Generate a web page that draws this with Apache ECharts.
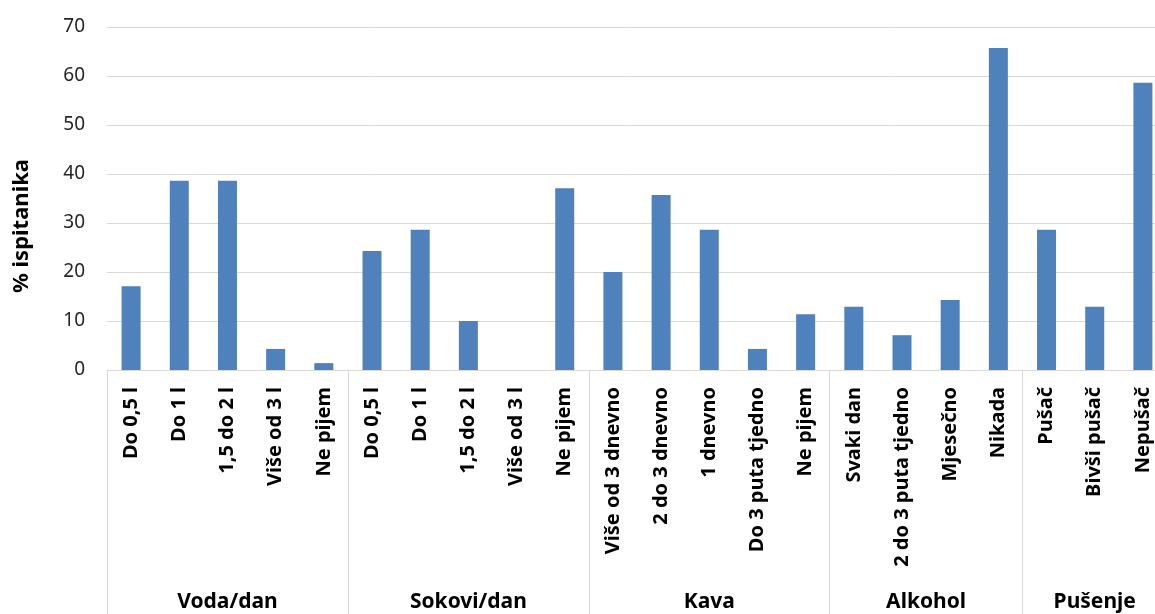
<!DOCTYPE html>
<html>
<head>
<meta charset="utf-8">
<script src="https://cdn.jsdelivr.net/npm/echarts@6/dist/echarts.min.js"></script>
<style>
html,body{margin:0;padding:0;background:#fff;}
#chart{width:1155px;height:614px;}
</style>
</head>
<body>
<div id="chart"></div>
<script>
// ---- data ----
const categories = [
  'Do 0,5 l', 'Do 1 l', '1,5 do 2 l', 'Više od 3 l', 'Ne pijem',
  'Do 0,5 l', 'Do 1 l', '1,5 do 2 l', 'Više od 3 l', 'Ne pijem',
  'Više od 3 dnevno', '2 do 3 dnevno', '1 dnevno', 'Do 3 puta tjedno', 'Ne pijem',
  'Svaki dan', '2 do 3 puta tjedno', 'Mjesečno', 'Nikada',
  'Pušač', 'Bivši pušač', 'Nepušač'
];
const values = [
  17.1, 38.6, 38.6, 4.3, 1.4,
  24.3, 28.6, 10.0, 0, 37.1,
  20.0, 35.7, 28.6, 4.3, 11.4,
  12.9, 7.1, 14.3, 65.7,
  28.6, 12.9, 58.6
];
const groupNames = ['Voda/dan', 'Sokovi/dan', 'Kava', 'Alkohol', 'Pušenje'];
const groupSizes = [5, 5, 5, 4, 3];
const yTicks = [0, 10, 20, 30, 40, 50, 60, 70];
const yAxisTitle = '% ispitanika';

// ---- derived helpers ----
const boundaries = [];
let acc = 0;
groupSizes.forEach(s => { boundaries.push(acc); acc += s; });
boundaries.push(acc);
const nHalf = categories.length * 2 + 1;
const groupLabelSlots = new Array(nHalf).fill('');
acc = 0;
groupSizes.forEach((s, i) => {
  groupLabelSlots[acc * 2 + s] = groupNames[i];
  acc += s;
});

const chart = echarts.init(document.getElementById('chart'), null, {renderer: 'canvas'});
const font = 'Noto Sans';
const option = {
  animation: false,
  backgroundColor: '#ffffff',
  grid: {left: 107, right: -12, top: 27, bottom: 244, containLabel: false, outerBoundsMode: 'none'},
  xAxis: [
    {
      type: 'category',
      data: categories,
      boundaryGap: true,
      axisLine: {show: true, lineStyle: {color: '#d9d9d9', width: 1}},
      axisTick: {
        show: true,
        length: 244,
        interval: (i) => boundaries.indexOf(i) >= 0,
        lineStyle: {color: '#d9d9d9', width: 1}
      },
      axisLabel: {
        interval: 0,
        rotate: 90,
        margin: 17,
        color: '#000000',
        fontFamily: font,
        fontWeight: 'bold',
        fontSize: 20
      },
      splitLine: {show: false}
    },
    {
      type: 'category',
      data: groupLabelSlots,
      boundaryGap: false,
      position: 'bottom',
      axisLine: {show: false},
      axisTick: {show: false},
      axisLabel: {
        interval: 0,
        margin: 222,
        color: '#000000',
        fontFamily: font,
        fontWeight: 'bold',
        fontSize: 21
      },
      splitLine: {show: false}
    }
  ],
  yAxis: {
    type: 'value',
    min: yTicks[0],
    max: yTicks[yTicks.length - 1],
    interval: yTicks[1] - yTicks[0],
    name: yAxisTitle,
    nameLocation: 'middle',
    nameGap: 74,
    nameTextStyle: {
      fontFamily: font,
      fontWeight: 'bold',
      fontSize: 22,
      color: '#000000',
      padding: [0, 55, 0, 0]
    },
    axisLine: {show: false},
    axisTick: {show: false},
    axisLabel: {
      margin: 22,
      color: '#262626',
      fontFamily: font,
      fontSize: 19
    },
    splitLine: {lineStyle: {color: '#d9d9d9', width: 1}}
  },
  series: [{
    type: 'bar',
    xAxisIndex: 0,
    data: values,
    barWidth: 19,
    itemStyle: {color: '#4f81bd'}
  }]
};
chart.setOption(option);
</script>
</body>
</html>
